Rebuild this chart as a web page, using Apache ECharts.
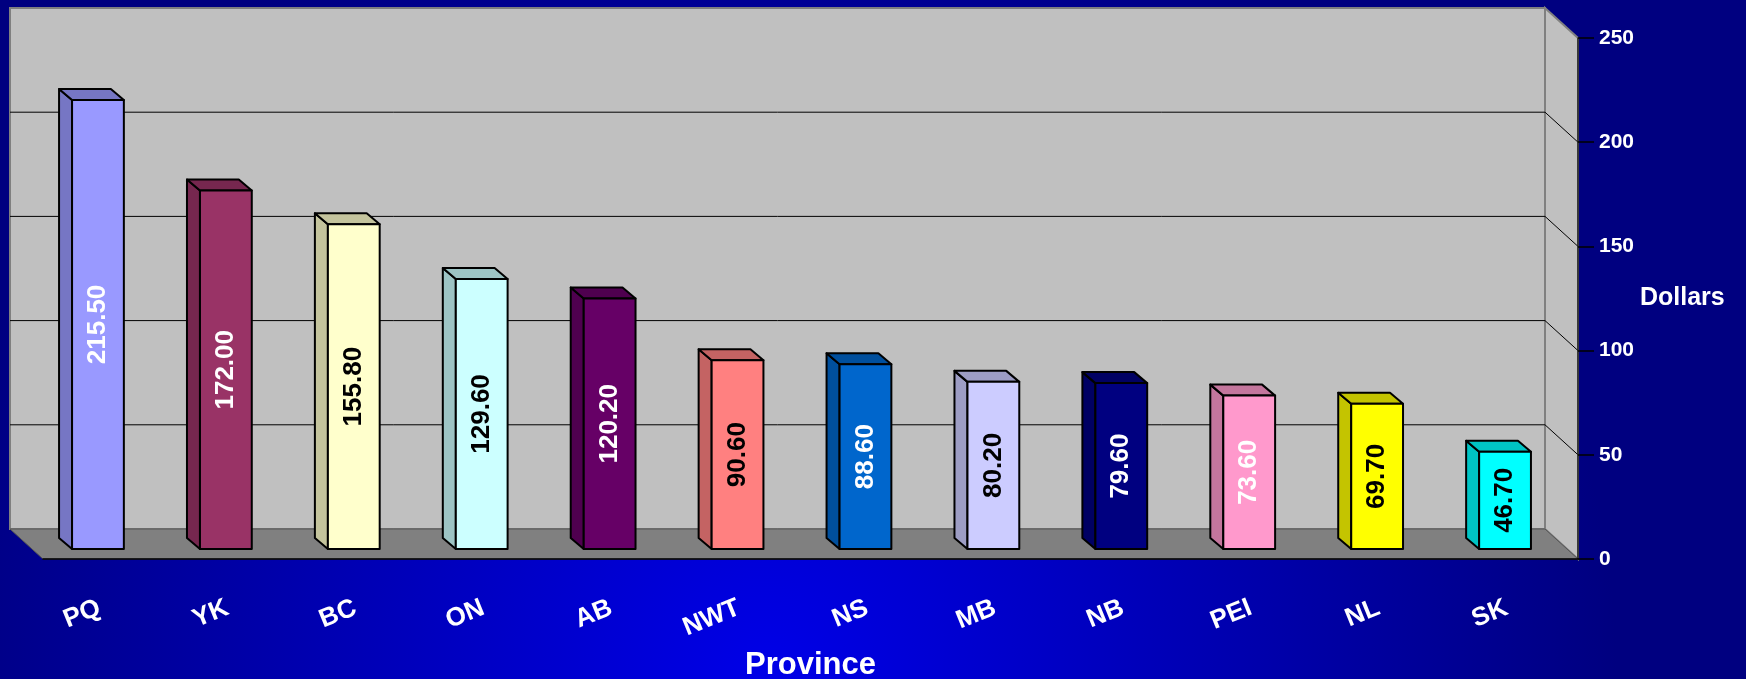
<!DOCTYPE html>
<html>
<head>
<meta charset="utf-8">
<script src="https://cdn.jsdelivr.net/npm/echarts@6/dist/echarts.min.js"></script>
<style>
  html, body { margin: 0; padding: 0; background: #000080; }
  #chart { width: 1746px; height: 679px; }
</style>
</head>
<body>
<div id="chart"></div>
<script>
const provinces = ['PQ', 'YK', 'BC', 'ON', 'AB', 'NWT', 'NS', 'MB', 'NB', 'PEI', 'NL', 'SK']
const dollars = [215.5, 172.0, 155.8, 129.6, 120.2, 90.6, 88.6, 80.2, 79.6, 73.6, 69.7, 46.7]
const yTicks = [0, 50, 100, 150, 200, 250]

const barColors = ['#9999FF', '#993366', '#FFFFCC', '#CCFFFF', '#660066', '#FF8080',
  '#0066CC', '#CCCCFF', '#000080', '#FF99CC', '#FFFF00', '#00FFFF']
const labelColors = ['#fff', '#fff', '#000', '#000', '#fff', '#000',
  '#fff', '#000', '#fff', '#fff', '#000', '#000']

const FONT = '"Liberation Sans", Arial, sans-serif'
// fake 3d offsets, in px
const WALL = [-33, -30]
const BAR_SHIFT = [-9, -10]
const BAR_DEPTH = [-13, -11]

function shade(hex, k) {
  const n = parseInt(hex.slice(1), 16)
  const r = Math.round(((n >> 16) & 255) * k)
  const g = Math.round(((n >> 8) & 255) * k)
  const b = Math.round((n & 255) * k)
  return 'rgb(' + r + ',' + g + ',' + b + ')'
}

function renderWalls(params) {
  const c = params.coordSys
  const [dx, dy] = WALL
  const l = c.x, r = c.x + c.width, t = c.y, b = c.y + c.height
  const grey = { stroke: '#808080', lineWidth: 2 }
  return {
    type: 'group',
    children: [
      { type: 'rect', shape: { x: l + dx, y: t + dy, width: c.width, height: c.height },
        style: Object.assign({ fill: '#C0C0C0' }, grey) },
      { type: 'polygon', shape: { points: [[r + dx, t + dy], [r, t], [r, b], [r + dx, b + dy]] },
        style: Object.assign({ fill: '#C0C0C0' }, grey) },
      { type: 'polygon', shape: { points: [[l, b], [r, b], [r + dx, b + dy], [l + dx, b + dy]] },
        style: { fill: '#808080', stroke: '#555', lineWidth: 1 } }
    ]
  }
}

function renderGridLine(params, api) {
  const c = params.coordSys
  const [dx, dy] = WALL
  const y = api.coord([0, api.value(1)])[1]
  const r = c.x + c.width
  return {
    type: 'polyline',
    shape: { points: [[c.x + dx, y + dy], [r + dx, y + dy], [r, y]] },
    style: { stroke: '#000', lineWidth: 1, fill: null }
  }
}

function renderBar(params, api) {
  const i = params.dataIndex
  const base = api.coord([api.value(0), 0])
  const top = api.coord([api.value(0), api.value(1)])
  const w = api.size([1, 0])[0] * 0.405
  const x0 = base[0] + BAR_SHIFT[0] - w / 2
  const x1 = x0 + w
  const yb = base[1] + BAR_SHIFT[1]
  const yt = top[1] + BAR_SHIFT[1]
  const [dx, dy] = BAR_DEPTH
  const side = shade(barColors[i], 0.77)
  const line = { stroke: '#000', lineWidth: 2, lineJoin: 'round' }
  return {
    type: 'group',
    children: [
      { type: 'polygon', shape: { points: [[x0, yt], [x0, yb], [x0 + dx, yb + dy], [x0 + dx, yt + dy]] },
        style: Object.assign({ fill: side }, line) },
      { type: 'polygon', shape: { points: [[x0, yt], [x1, yt], [x1 + dx, yt + dy], [x0 + dx, yt + dy]] },
        style: Object.assign({ fill: side }, line) },
      { type: 'rect', shape: { x: x0, y: yt, width: w, height: yb - yt },
        style: Object.assign({ fill: barColors[i] }, line) },
      { type: 'text', x: (x0 + x1) / 2, y: (yt + yb) / 2, rotation: Math.PI / 2,
        style: { text: api.value(1).toFixed(2), fill: labelColors[i],
          font: 'bold 26px ' + FONT, align: 'center', verticalAlign: 'middle' } }
    ]
  }
}

const chart = echarts.init(document.getElementById('chart'))
chart.setOption({
  animation: false,
  backgroundColor: {
    type: 'radial', x: 0.44, y: 1, r: 1.25,
    colorStops: [{ offset: 0, color: '#0000E8' }, { offset: 1, color: '#000080' }]
  },
  grid: { left: 43, right: 168, top: 38, bottom: 120, outerBoundsMode: 'none' },
  xAxis: {
    type: 'category',
    data: provinces,
    z: 5,
    name: 'Province',
    nameLocation: 'middle',
    nameGap: 106,
    nameTextStyle: { color: '#fff', fontWeight: 'bold', fontSize: 31, fontFamily: FONT, verticalAlign: 'middle' },
    axisLine: { lineStyle: { color: '#000', width: 1.5 } },
    axisTick: { length: 18, lineStyle: { color: '#000', width: 1 } },
    axisLabel: { color: '#fff', fontWeight: 'bold', fontSize: 26, fontFamily: FONT, rotate: 22, margin: 45,
      padding: [0, 8, 0, 0] },
    splitLine: { show: false }
  },
  yAxis: {
    type: 'value',
    position: 'right',
    min: yTicks[0],
    max: yTicks[yTicks.length - 1],
    interval: 50,
    z: 5,
    name: 'Dollars',
    nameLocation: 'middle',
    nameRotate: 0,
    nameGap: 60,
    nameTextStyle: { color: '#fff', fontWeight: 'bold', fontSize: 25, fontFamily: FONT, align: 'left', verticalAlign: 'middle' },
    axisLine: { show: true, lineStyle: { color: '#222', width: 1.5 } },
    axisTick: { show: true, length: 16, lineStyle: { color: '#000', width: 1.5 } },
    axisLabel: { color: '#fff', fontWeight: 'bold', fontSize: 21, fontFamily: FONT, margin: 21 },
    splitLine: { show: false }
  },
  series: [
    {
      type: 'custom',
      silent: true,
      z: 1,
      data: [[0, 0]],
      renderItem: renderWalls
    },
    {
      type: 'custom',
      silent: true,
      z: 2,
      data: yTicks.slice(1, -1).map(v => [0, v]),
      renderItem: renderGridLine
    },
    {
      type: 'custom',
      z: 3,
      data: dollars.map((v, i) => [i, v]),
      renderItem: renderBar
    }
  ]
})
</script>
</body>
</html>
